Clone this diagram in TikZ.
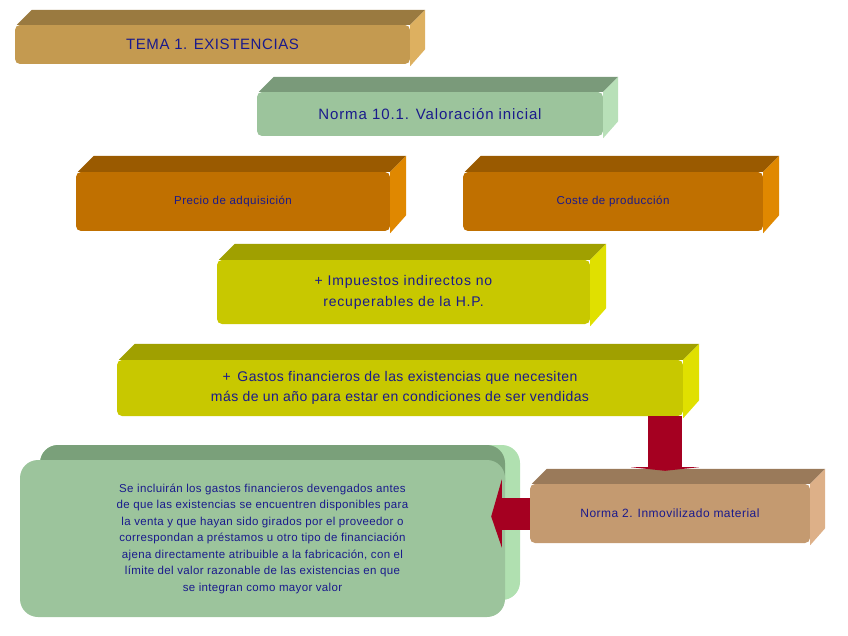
\documentclass[tikz,border=0pt]{standalone}
\usepackage{fontspec}
\setmainfont{Liberation Sans}
\usetikzlibrary{calc}
\definecolor{txt}{HTML}{1A1A8C}
\definecolor{arr}{HTML}{A50021}
\newcommand\faces[4]{%
 \fill[#3] ($(#1.north west)+(2,0)$) -- ++(#2,-#2) -- ($(#1.north east)+(#2,-#2)$) -- (#1.north east) -- cycle;
 \fill[#4] (#1.north east) -- ++(#2,-#2) -- ($(#1.south east)+(#2,-#2)$) -- ($(#1.south east)+(0,2)$) -- cycle;}
\tikzset{face/.style={inner sep=0pt,rounded corners=5pt,text=txt,align=center,font=\addfontfeatures{LetterSpace=6}}}
\begin{document}
\begin{tikzpicture}[x=1pt,y=-1pt]
\useasboundingbox (0,0) rectangle (848,636);
% boxes
\node[face,fill=brown!40!orange!60!gray,fill={rgb,255:red,196;green,154;blue,80},minimum width=395,minimum height=39,font=\fontsize{15}{18}\selectfont\addfontfeatures{LetterSpace=4}] (tema) at (212.5,44.5) {TEMA 1. EXISTENCIAS};
\faces{tema}{15}{fill={rgb,255:red,154;green,122;blue,64}}{fill={rgb,255:red,221;green,176;blue,96}}
\node[face,fill={rgb,255:red,156;green,196;blue,156},minimum width=346,minimum height=44,font=\fontsize{15}{18}\selectfont\addfontfeatures{LetterSpace=6}] (n10) at (430,114) {Norma 10.1. Valoración inicial};
\faces{n10}{15}{fill={rgb,255:red,122;green,154;blue,122}}{fill={rgb,255:red,184;green,224;blue,184}}
\node[face,fill={rgb,255:red,192;green,112;blue,0},minimum width=314,minimum height=59,font=\fontsize{11.5}{14}\selectfont\addfontfeatures{LetterSpace=4}] (pre) at (233,201.5) {Precio de adquisición};
\faces{pre}{16}{fill={rgb,255:red,154;green,90;blue,0}}{fill={rgb,255:red,224;green,136;blue,0}}
\node[face,fill={rgb,255:red,192;green,112;blue,0},minimum width=300,minimum height=59,font=\fontsize{11.5}{14}\selectfont\addfontfeatures{LetterSpace=4}] (cos) at (613,201.5) {Coste de producción};
\faces{cos}{16}{fill={rgb,255:red,154;green,90;blue,0}}{fill={rgb,255:red,224;green,136;blue,0}}
\node[face,fill={rgb,255:red,200;green,200;blue,0},minimum width=373,minimum height=64,font=\fontsize{14}{21}\selectfont\addfontfeatures{LetterSpace=6}] (imp) at (403.5,292) {+ Impuestos indirectos no\\recuperables de la H.P.};
\faces{imp}{16}{fill={rgb,255:red,160;green,160;blue,0}}{fill={rgb,255:red,224;green,224;blue,0}}
\node[face,fill={rgb,255:red,200;green,200;blue,0},minimum width=566,minimum height=56,font=\fontsize{14}{20}\selectfont\addfontfeatures{LetterSpace=3}] (gas) at (400,388) {+ \,Gastos financieros de las existencias que necesiten\\más de un año para estar en condiciones de ser vendidas};
\faces{gas}{16}{fill={rgb,255:red,160;green,160;blue,0}}{fill={rgb,255:red,224;green,224;blue,0}}
\node[face,fill={rgb,255:red,196;green,154;blue,112},minimum width=280,minimum height=59,font=\fontsize{12}{14}\selectfont\addfontfeatures{LetterSpace=4}] (n2) at (670,513.5) {Norma 2. Inmovilizado material};
\faces{n2}{15}{fill={rgb,255:red,154;green,122;blue,90}}{fill={rgb,255:red,221;green,176;blue,136}}
% left green box
\fill[rounded corners=18pt,fill={rgb,255:red,176;green,224;blue,176}] (40,445) rectangle (520,600);
\fill[rounded corners=18pt,fill={rgb,255:red,122;green,160;blue,122}] (40,445) rectangle (505,500);
\node[face,rounded corners=18pt,fill={rgb,255:red,156;green,196;blue,156},minimum width=485,minimum height=157,font=\fontsize{11.5}{16.5}\selectfont\addfontfeatures{LetterSpace=3}] (txtb) at (262.5,538.5) {Se incluirán los gastos financieros devengados antes\\de que las existencias se encuentren disponibles para\\la venta y que hayan sido girados por el proveedor o\\correspondan a préstamos u otro tipo de financiación\\ajena directamente atribuible a la fabricación, con el\\límite del valor razonable de las existencias en que\\se integran como mayor valor};
% arrows
\coordinate (a1) at (gas.south -| 665,0);
\fill[arr] ($(a1)+(-17,0)$) rectangle ($(a1)+(17,51)$);
\fill[arr] ($(a1)+(-34,51)$) -- ($(a1)+(34,51)$) -- ($(n2.north)+(-5,-13)$) -- cycle;
\fill[arr] (n2.west) ++(0,-16) rectangle ($(n2.west)+(-28,16)$);
\fill[arr] ($(n2.west)+(-28,-34)$) -- ($(n2.west)+(-28,34)$) -- ($(txtb.east)+(-14,-22)$) -- cycle;
\end{tikzpicture}
\end{document}
